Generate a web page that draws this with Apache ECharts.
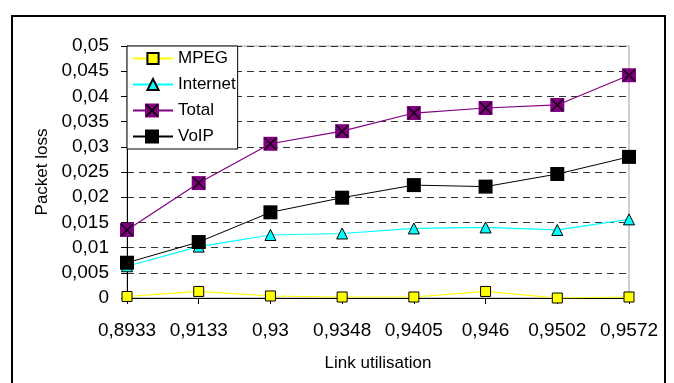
<!DOCTYPE html>
<html>
<head>
<meta charset="utf-8">
<script src="https://cdn.jsdelivr.net/npm/echarts@6/dist/echarts.min.js"></script>
<style>html,body{margin:0;padding:0;background:#fff}#c{width:674px;height:383px}</style>
</head>
<body>
<div id="c"></div>
<script>
var categories = ['0,8933', '0,9133', '0,93', '0,9348', '0,9405', '0,946', '0,9502', '0,9572'];
var mpeg     = [0.0003, 0.0013, 0.0004, 0.0002, 0.0002, 0.0013, 0.0000, 0.0002];
var internet = [0.0063, 0.0102, 0.0125, 0.0128, 0.0138, 0.0140, 0.0135, 0.0156];
var total    = [0.0135, 0.0228, 0.0306, 0.0331, 0.0367, 0.0377, 0.0383, 0.0442];
var voip     = [0.0070, 0.0111, 0.0170, 0.0199, 0.0224, 0.0221, 0.0246, 0.0280];
var seriesNames = ['MPEG', 'Internet', 'Total', 'VoIP'];
var yTicks   = { min: 0, max: 0.05, interval: 0.005 };

var FONT = 'Liberation Sans, Arial, sans-serif';
var X_PATH = 'path://M0,0 L1.2,0 L12,10.8 L12,12 L10.8,12 L0,1.2 Z M12,0 L12,1.2 L1.2,12 L0,12 L0,10.8 L10.8,0 Z';
// legend overlay icons: 40x14 box (anchored by move-to points) with the shape centred
var BOX = 'M0,0 M40,14 ';
var LEG_SQUARE = 'path://' + BOX + 'M13,0 L27,0 L27,14 L13,14 Z';
var LEG_X = 'path://' + BOX + 'M14,1 L15.2,1 L26,11.8 L26,13 L24.8,13 L14,2.2 Z M26,1 L26,2.2 L15.2,13 L14,13 L14,11.8 L24.8,1 Z';

function fmt(v) {
  if (v === 0) return '0';
  return String(+v.toFixed(4)).replace('.', ',');
}

var legendBase = {
  orient: 'vertical', left: 127, top: 46,
  padding: [4, 2, 4, 5], itemGap: 9, itemWidth: 40, itemHeight: 14,
  textStyle: { fontFamily: FONT, fontSize: 17, color: '#000' },
  selectedMode: false
};
function overlayLegend(z, icons) {
  // transparent copy of the legend laid over the main one, to enlarge/decorate icons
  return Object.assign({}, legendBase, {
    z: z, backgroundColor: 'transparent', borderWidth: 0,
    textStyle: { fontFamily: FONT, fontSize: 17, color: 'rgba(0,0,0,0)' },
    data: seriesNames.map(function (n) {
      var ic = icons[n];
      return ic
        ? { name: n, icon: ic.icon, itemStyle: { color: ic.color, borderWidth: 0 } }
        : { name: n, icon: LEG_SQUARE, itemStyle: { color: 'rgba(0,0,0,0)', borderWidth: 0 } };
    })
  });
}

var chart = echarts.init(document.getElementById('c'), null, { renderer: 'canvas' });
chart.setOption({
  animation: false,
  backgroundColor: '#fff',
  textStyle: { fontFamily: FONT },
  graphic: [{
    type: 'rect', z: -10,
    shape: { x: 12, y: 16, width: 653, height: 400 },
    style: { fill: 'none', stroke: '#000', lineWidth: 2 }
  }],
  grid: { left: 127, right: 45, top: 46, bottom: 85, show: true, borderColor: '#a0a0a0', borderWidth: 1, backgroundColor: 'transparent' },
  legend: [
    Object.assign({}, legendBase, {
      z: 4, backgroundColor: '#fff', borderColor: '#000', borderWidth: 1,
      data: seriesNames.slice()
    }),
    overlayLegend(5, { Total: { icon: LEG_SQUARE, color: '#800080' }, VoIP: { icon: LEG_SQUARE, color: '#000' } }),
    overlayLegend(6, { Total: { icon: LEG_X, color: '#000' } })
  ],
  xAxis: {
    type: 'category', data: categories, boundaryGap: false,
    name: 'Link utilisation', nameLocation: 'middle', nameGap: 57,
    nameTextStyle: { fontFamily: FONT, fontSize: 17, color: '#000' },
    axisLine: { lineStyle: { color: '#000', width: 1 } },
    axisTick: { show: true, length: 6, interval: 0, lineStyle: { color: '#000' } },
    axisLabel: { fontFamily: FONT, fontSize: 19, color: '#000', margin: 23, interval: 0, hideOverlap: false },
    splitLine: { show: false }
  },
  yAxis: {
    type: 'value', min: yTicks.min, max: yTicks.max, interval: yTicks.interval,
    name: 'Packet loss', nameLocation: 'middle', nameGap: 74,
    nameTextStyle: { fontFamily: FONT, fontSize: 17, color: '#000' },
    axisLine: { show: true, lineStyle: { color: '#000', width: 1 } },
    axisTick: { show: true, length: 6, lineStyle: { color: '#000' } },
    axisLabel: { fontFamily: FONT, fontSize: 19, color: '#000', margin: 18, formatter: fmt },
    splitLine: { show: true, showMinLine: false, lineStyle: { color: '#333', type: [7, 5], width: 1 } }
  },
  series: [
    {
      name: 'MPEG', type: 'line', data: mpeg, symbol: 'rect', symbolSize: 10,
      lineStyle: { color: '#ffff00', width: 1.2 },
      itemStyle: { color: '#ffff00', borderColor: '#000', borderWidth: 1 }, z: 3
    },
    {
      name: 'Internet', type: 'line', data: internet, symbol: 'triangle', symbolSize: 11,
      lineStyle: { color: '#00ffff', width: 1.2 },
      itemStyle: { color: '#00ffff', borderColor: '#000', borderWidth: 1 }, z: 2
    },
    {
      name: 'Total', type: 'line', data: total, symbol: 'rect', symbolSize: 14,
      lineStyle: { color: '#800080', width: 1.2 },
      itemStyle: { color: '#800080', borderWidth: 0 }, z: 4
    },
    {
      name: 'TotalX', type: 'scatter', data: total, symbol: X_PATH, symbolSize: 12,
      itemStyle: { color: '#000' }, z: 5, silent: true
    },
    {
      name: 'VoIP', type: 'line', data: voip, symbol: 'rect', symbolSize: 14,
      lineStyle: { color: '#000', width: 1 },
      itemStyle: { color: '#000' }, z: 4
    }
  ]
});
</script>
</body>
</html>
